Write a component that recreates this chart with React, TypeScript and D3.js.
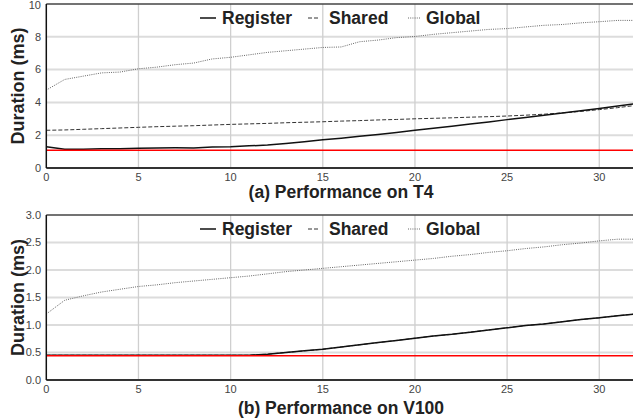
import React from "react";
import * as d3 from "d3";

const xs = d3.range(0, 33);
const t4Register = [1.3,1.15,1.15,1.17,1.17,1.2,1.22,1.23,1.22,1.28,1.3,1.35,1.4,1.5,1.6,1.72,1.82,1.93,2.04,2.16,2.3,2.42,2.55,2.68,2.81,2.95,3.08,3.21,3.35,3.49,3.63,3.78,3.93];
const t4Shared = [2.3,2.32,2.36,2.4,2.44,2.48,2.52,2.55,2.58,2.62,2.66,2.69,2.72,2.76,2.79,2.82,2.86,2.89,2.93,2.96,3.0,3.03,3.06,3.1,3.13,3.17,3.22,3.28,3.36,3.45,3.56,3.68,3.82];
const t4Global = [4.75,5.4,5.6,5.8,5.85,6.05,6.15,6.3,6.4,6.65,6.75,6.9,7.05,7.15,7.25,7.35,7.38,7.7,7.8,7.95,8.02,8.15,8.25,8.35,8.45,8.5,8.6,8.7,8.75,8.85,8.92,9.0,9.0];
const t4Ref = 1.08;
const v100Register = [0.45,0.45,0.45,0.45,0.45,0.45,0.45,0.45,0.45,0.45,0.45,0.45,0.47,0.5,0.53,0.56,0.6,0.64,0.68,0.72,0.76,0.8,0.83,0.87,0.91,0.95,0.99,1.02,1.06,1.1,1.13,1.17,1.2];
const v100Shared = [0.45,0.45,0.45,0.45,0.45,0.45,0.45,0.45,0.45,0.45,0.45,0.45,0.47,0.5,0.53,0.56,0.6,0.64,0.68,0.72,0.76,0.8,0.83,0.87,0.91,0.95,0.99,1.02,1.06,1.1,1.13,1.17,1.2];
const v100Global = [1.2,1.45,1.53,1.6,1.65,1.7,1.73,1.77,1.8,1.83,1.86,1.89,1.93,1.97,2.0,2.03,2.06,2.09,2.12,2.15,2.18,2.21,2.25,2.28,2.32,2.35,2.39,2.42,2.46,2.49,2.53,2.56,2.56];
const v100Ref = 0.44;

const xTicks = [0, 5, 10, 15, 20, 25, 30];
const t4YTicks = [0, 2, 4, 6, 8, 10];
const v100YTicks = [0, 0.5, 1.0, 1.5, 2.0, 2.5, 3.0];
const legendNames = ["Register", "Shared", "Global"];
const titles = ["(a) Performance on T4", "(b) Performance on V100"];

const FONT = "'Liberation Sans', Arial, sans-serif";
const styles = [
  { stroke: "#111", width: 1.5, dash: "" },
  { stroke: "#333", width: 1, dash: "4,2" },
  { stroke: "#666", width: 1, dash: "1,1.2" },
];

function Panel({ id, top, bottom, yMax, yTicks, fmt, series, refVal, title, titleY }) {
  const left = 46.3, right = 633;
  const x = d3.scaleLinear().domain([0, 31.83]).range([left, right]);
  const y = d3.scaleLinear().domain([0, yMax]).range([bottom, top]);
  const line = d3.line<number>().x((_, i) => x(xs[i])).y((d) => y(d));
  const legendX = [200, 308, 408];
  const legendTextX = [222, 329, 426];
  return (
    <g>
      <defs>
        <clipPath id={id}>
          <rect x={left} y={top} width={right - left} height={bottom - top} />
        </clipPath>
      </defs>
      {yTicks.slice(1, -1).map((t) => (
        <line key={"h" + t} x1={left} x2={right} y1={y(t)} y2={y(t)} stroke="#dcdcdc" strokeWidth={2} />
      ))}
      {xTicks.slice(1).map((t) => (
        <line key={"v" + t} x1={x(t)} x2={x(t)} y1={top} y2={bottom} stroke="#cfcfcf" strokeWidth={1.3} />
      ))}
      <g clipPath={`url(#${id})`}>
        {[2, 1, 0].map((i) => (
          <path key={"s" + i} d={line(series[i]) || ""} fill="none" stroke={styles[i].stroke}
            strokeWidth={styles[i].width} strokeDasharray={styles[i].dash} />
        ))}
        <line x1={left} x2={right} y1={y(refVal)} y2={y(refVal)} stroke="#ff0000" strokeWidth={1.5} />
      </g>
      <line x1={left} x2={right} y1={top} y2={top} stroke="#444" strokeWidth={1.5} />
      <line x1={left} x2={right} y1={bottom} y2={bottom} stroke="#333" strokeWidth={2} />
      <line x1={left} x2={left} y1={top} y2={bottom} stroke="#111" strokeWidth={1.5} />
      {yTicks.map((t) => (
        <text key={"yt" + t} x={41} y={Math.max(y(t), 5)} dy="0.35em" textAnchor="end" fontSize={11} fill="#444" fontFamily={FONT}>
          {fmt(t)}
        </text>
      ))}
      {xTicks.map((t) => (
        <text key={"xt" + t} x={x(t)} y={bottom + 13} textAnchor="middle" fontSize={11} fill="#444" fontFamily={FONT}>
          {t}
        </text>
      ))}
      <text transform={`translate(24,${(top + bottom) / 2}) rotate(-90)`} textAnchor="middle" fontSize={18}
        fontWeight="bold" fill="#222" fontFamily={FONT}>
        Duration (ms)
      </text>
      <text x={341} y={titleY} textAnchor="middle" fontSize={17.5} fontWeight="bold" fill="#222" fontFamily={FONT}>
        {title}
      </text>
      {legendNames.map((n, i) => (
        <g key={n}>
          <line x1={legendX[i]} x2={legendX[i] + (i === 0 ? 16 : 12)} y1={top + 14} y2={top + 14}
            stroke={styles[i].stroke} strokeWidth={styles[i].width} strokeDasharray={styles[i].dash} />
          <text x={legendTextX[i]} y={top + 20} fontSize={17.5} fontWeight="bold" fill="#222" fontFamily={FONT}>
            {n}
          </text>
        </g>
      ))}
    </g>
  );
}

export default function App() {
  return (
    <svg width={633} height={420} style={{ position: "absolute", left: 0, top: 0, background: "#fff" }}>
      <rect width={633} height={420} fill="#fff" />
      <Panel id="c1" top={4} bottom={168} yMax={10} yTicks={t4YTicks} fmt={(t) => String(t)}
        series={[t4Register, t4Shared, t4Global]} refVal={t4Ref} title={titles[0]} titleY={198} />
      <Panel id="c2" top={215} bottom={380} yMax={3} yTicks={v100YTicks} fmt={(t) => t.toFixed(1)}
        series={[v100Register, v100Shared, v100Global]} refVal={v100Ref} title={titles[1]} titleY={414} />
    </svg>
  );
}
